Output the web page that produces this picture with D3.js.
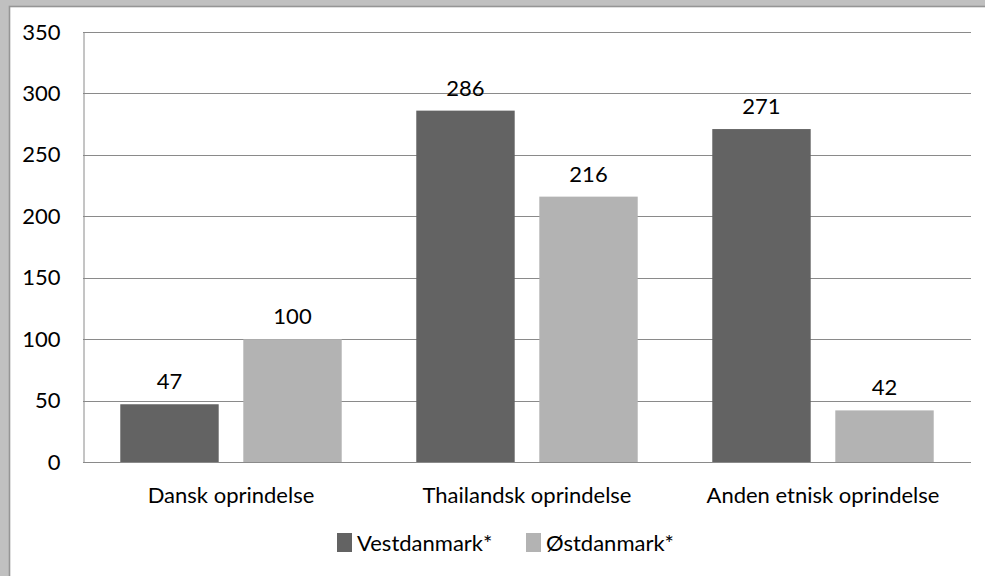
<!DOCTYPE html>
<html>
<head>
  <meta charset="utf-8">
  <title>Oprindelse - Vestdanmark og Østdanmark</title>
  <script src="https://d3js.org/d3.v7.min.js"></script>
  <style>
    body { margin: 0; background: #c0c0c0; }
    svg { display: block; }
    text { font-family: Lato, "Open Sans", sans-serif; fill: #000; }
  </style>
</head>
<body>
  <div id="chart"></div>
  <script type="text/javascript">
    "use strict";

    // data
    var categories = ["Dansk oprindelse", "Thailandsk oprindelse", "Anden etnisk oprindelse"];
    var seriesNames = ["Vestdanmark*", "Østdanmark*"];
    var vestdanmark = [47, 286, 271];
    var ostdanmark = [100, 216, 42];
    var yTicks = [0, 50, 100, 150, 200, 250, 300, 350];
    var colors = ["#636363", "#b3b3b3"];

    var seriesValues = [vestdanmark, ostdanmark];

    var width = 985,
        height = 576;

    var plot = { left: 83, top: 32, right: 971, bottom: 462 };

    var svg = d3.select("#chart")
      .append("svg")
      .attr("width", width)
      .attr("height", height);

    /**
     * grey frame around the white chart area
     */
    svg.append("rect")
      .attr("x", 0).attr("y", 0)
      .attr("width", width).attr("height", height)
      .attr("fill", "#c0c0c0");

    svg.append("rect")
      .attr("x", 9.5).attr("y", 6.5)
      .attr("width", width + 20).attr("height", height + 20)
      .attr("fill", "#ffffff")
      .attr("stroke", "#959595")
      .attr("stroke-width", 1.6);

    /**
     * scales
     */
    var x0 = d3.scaleBand()
      .domain(categories)
      .range([plot.left, plot.right])
      .padding(0);

    var x1 = d3.scaleBand()
      .domain(seriesNames)
      .range([0, x0.bandwidth()])
      .paddingInner(0.2)
      .paddingOuter(0.303);

    var y = d3.scaleLinear()
      .domain([0, 350])
      .range([plot.bottom, plot.top]);

    // gridlines
    svg.append("g")
      .selectAll("line")
      .data(yTicks)
      .enter()
      .append("line")
        .attr("x1", plot.left)
        .attr("x2", plot.right)
        .attr("y1", function (d) { return Math.round(y(d)) + 0.5; })
        .attr("y2", function (d) { return Math.round(y(d)) + 0.5; })
        .attr("stroke", "#8a8a8a")
        .attr("stroke-width", 1);

    // y axis line + labels
    var yAxis = d3.axisLeft(y).tickValues(yTicks).tickSize(0).tickPadding(23);
    var gy = svg.append("g")
      .attr("transform", "translate(" + (plot.left + 0.5) + ",0)")
      .call(yAxis);
    gy.select(".domain").attr("stroke", "#8a8a8a");
    gy.selectAll("text")
      .style("font-family", "Lato, sans-serif")
      .style("font-size", "22px")
      .attr("fill", "#000");

    /**
     * bars
     */
    var groups = svg.append("g")
      .selectAll("g")
      .data(categories)
      .enter()
      .append("g")
        .attr("transform", function (d) { return "translate(" + x0(d) + ",0)"; });

    groups.selectAll("rect")
      .data(function (d, i) {
        return seriesNames.map(function (s, j) {
          return { series: s, idx: j, value: seriesValues[j][i] };
        });
      })
      .enter()
      .append("rect")
        .attr("x", function (d) { return x1(d.series); })
        .attr("y", function (d) { return y(d.value); })
        .attr("width", x1.bandwidth())
        .attr("height", function (d) { return y(0) - y(d.value); })
        .attr("fill", function (d) { return colors[d.idx]; });

    groups.selectAll("text.value")
      .data(function (d, i) {
        return seriesNames.map(function (s, j) {
          return { series: s, value: seriesValues[j][i] };
        });
      })
      .enter()
      .append("text")
        .attr("class", "value")
        .attr("x", function (d) { return x1(d.series) + x1.bandwidth() / 2; })
        .attr("y", function (d) { return y(d.value) - 15; })
        .attr("text-anchor", "middle")
        .style("font-size", "22px")
        .text(function (d) { return d.value; });

    // bottom axis line drawn over the bar bottoms
    svg.append("line")
      .attr("x1", plot.left)
      .attr("x2", plot.right)
      .attr("y1", plot.bottom + 0.5)
      .attr("y2", plot.bottom + 0.5)
      .attr("stroke", "#8a8a8a");

    // category labels
    svg.append("g")
      .selectAll("text")
      .data(categories)
      .enter()
      .append("text")
        .attr("x", function (d) { return x0(d) + x0.bandwidth() / 2; })
        .attr("y", 503)
        .attr("text-anchor", "middle")
        .style("font-size", "22px")
        .text(function (d) { return d; });

    /**
     * legend
     */
    var legendX = [337, 526];
    var legend = svg.append("g")
      .selectAll("g")
      .data(seriesNames)
      .enter()
      .append("g")
        .attr("transform", function (d, i) { return "translate(" + legendX[i] + ",533)"; });

    legend.append("rect")
      .attr("width", 15)
      .attr("height", 19)
      .attr("fill", function (d, i) { return colors[i]; });

    legend.append("text")
      .attr("x", 20)
      .attr("y", 17.5)
      .style("font-size", "22px")
      .text(function (d) { return d; });
  </script>
</body>
</html>
